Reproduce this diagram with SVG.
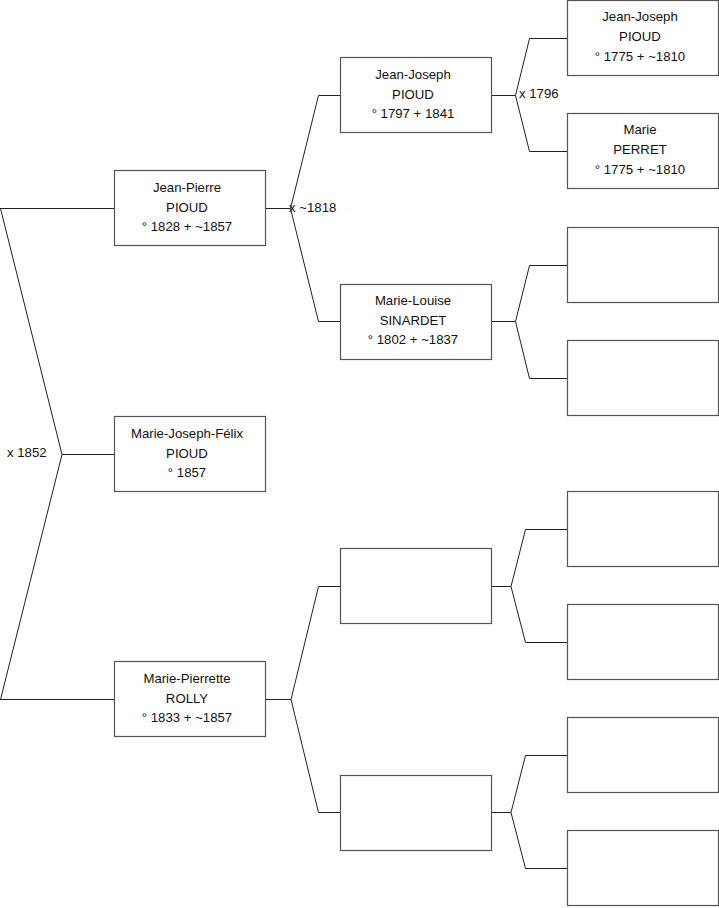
<svg xmlns="http://www.w3.org/2000/svg" width="719" height="908" viewBox="0 0 719 908">
<style>
.box{fill:#fff;stroke:#555;stroke-width:1.2}
.ln{fill:none;stroke:#222;stroke-width:1}
text{font-family:"Liberation Sans",Arial,sans-serif;font-size:13.2px;fill:#111}
.c{text-anchor:middle}
</style>
<rect width="719" height="908" fill="#fff"/>
<g id="connectors">
<path class="ln" d="M0,208.5H114.5M0.5,208.5L62,454.5L0.5,699.5M62,454.5H114.5M0,699.5H114.5"/>
<path class="ln" d="M265.5,208.5H290.5M318.5,95.5L290.5,208.5L318.5,321.5M318.5,95.5H340.5M318.5,321.5H340.5"/>
<path class="ln" d="M265.5,699.5H291M318.5,586.5L291,699.5L318.5,812.5M318.5,586.5H340.5M318.5,812.5H340.5"/>
<path class="ln" d="M491.5,95.5H515.5M529.5,38.5L515.5,95.5L529.5,151.5M529.5,38.5H567.5M529.5,151.5H567.5"/>
<path class="ln" d="M491.5,321.5H515.5M529.5,265.5L515.5,321.5L529.5,378.5M529.5,265.5H567.5M529.5,378.5H567.5"/>
<path class="ln" d="M491.5,586.5H511M525.5,529.5L511,586.5L525.5,642.5M525.5,529.5H567.5M525.5,642.5H567.5"/>
<path class="ln" d="M491.5,812.5H511M525.5,755.5L511,812.5L525.5,868.5M525.5,755.5H567.5M525.5,868.5H567.5"/>
<text x="7" y="456.5">x 1852</text>
<text x="289" y="211.5">x ~1818</text>
<text x="519" y="97.5">x 1796</text>
</g>
<g id="n-jean-pierre">
<rect class="box" x="114.5" y="170.5" width="151" height="75"/>
<text class="c" x="187" y="191.5">Jean-Pierre</text>
<text class="c" x="187" y="211.5">PIOUD</text>
<text class="c" x="187" y="231">° 1828 + ~1857</text>
</g>
<g id="n-marie-joseph-felix">
<rect class="box" x="114.5" y="416.5" width="151" height="75"/>
<text class="c" x="187" y="437.5">Marie-Joseph-Félix</text>
<text class="c" x="187" y="457.5">PIOUD</text>
<text class="c" x="187" y="477">° 1857</text>
</g>
<g id="n-marie-pierrette">
<rect class="box" x="114.5" y="661.5" width="151" height="75"/>
<text class="c" x="187" y="682.5">Marie-Pierrette</text>
<text class="c" x="187" y="702.5">ROLLY</text>
<text class="c" x="187" y="722">° 1833 + ~1857</text>
</g>
<g id="n-jean-joseph-1797">
<rect class="box" x="340.5" y="57.5" width="151" height="75"/>
<text class="c" x="413" y="78.5">Jean-Joseph</text>
<text class="c" x="413" y="98.5">PIOUD</text>
<text class="c" x="413" y="118">° 1797 + 1841</text>
</g>
<g id="n-marie-louise">
<rect class="box" x="340.5" y="284.5" width="151" height="75"/>
<text class="c" x="413" y="304.5">Marie-Louise</text>
<text class="c" x="413" y="324.5">SINARDET</text>
<text class="c" x="413" y="344">° 1802 + ~1837</text>
</g>
<g id="n-empty-g2a"><rect class="box" x="340.5" y="548.5" width="151" height="75"/></g>
<g id="n-empty-g2b"><rect class="box" x="340.5" y="775.5" width="151" height="75"/></g>
<g id="n-jean-joseph-1775">
<rect class="box" x="567.5" y="0.5" width="151" height="75"/>
<text class="c" x="640" y="21">Jean-Joseph</text>
<text class="c" x="640" y="41">PIOUD</text>
<text class="c" x="640" y="60.5">° 1775 + ~1810</text>
</g>
<g id="n-marie-perret">
<rect class="box" x="567.5" y="113.5" width="151" height="75"/>
<text class="c" x="640" y="134">Marie</text>
<text class="c" x="640" y="154">PERRET</text>
<text class="c" x="640" y="173.5">° 1775 + ~1810</text>
</g>
<g id="n-empty-g3c"><rect class="box" x="567.5" y="227.5" width="151" height="75"/></g>
<g id="n-empty-g3d"><rect class="box" x="567.5" y="340.5" width="151" height="75"/></g>
<g id="n-empty-g3e"><rect class="box" x="567.5" y="491.5" width="151" height="75"/></g>
<g id="n-empty-g3f"><rect class="box" x="567.5" y="604.5" width="151" height="75"/></g>
<g id="n-empty-g3g"><rect class="box" x="567.5" y="717.5" width="151" height="75"/></g>
<g id="n-empty-g3h"><rect class="box" x="567.5" y="830.5" width="151" height="75"/></g>
</svg>
